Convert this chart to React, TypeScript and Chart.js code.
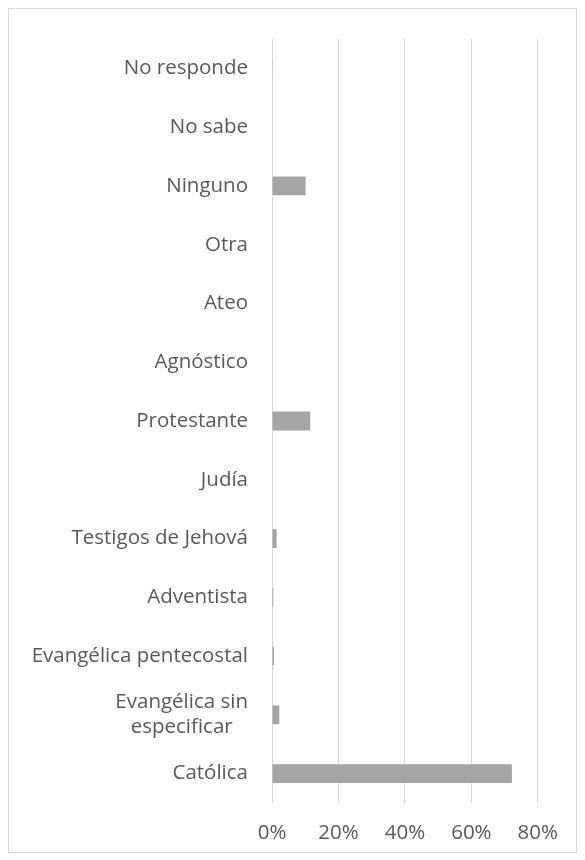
import React, { useEffect, useRef } from "react";
import { Chart, registerables } from "chart.js";

Chart.register(...registerables);

// Source order (bottom to top in the picture)
const categories: (string | string[])[] = [
  "Católica",
  ["Evangélica sin", "especificar"],
  "Evangélica pentecostal",
  "Adventista",
  "Testigos de Jehová",
  "Judía",
  "Protestante",
  "Agnóstico",
  "Ateo",
  "Otra",
  "Ninguno",
  "No sabe",
  "No responde",
];
const values = [72.2, 2.2, 0.6, 0.4, 1.4, 0, 11.5, 0, 0, 0, 10.1, 0, 0.2];
const xMin = 0;
const xMax = 80;
const xStep = 20;

const FONT = "'Open Sans', Lato, sans-serif";
const FONT_SIZE = 20.5;
const LINE_H = 25;
const TEXT_COLOR = "#595959";

const yLabelPlugin = {
  id: "yLabelsCentered",
  afterDraw(chart: any) {
    const { ctx, chartArea } = chart;
    const y = chart.scales.y;
    const right = chartArea.left - 24;
    ctx.save();
    ctx.font = `${FONT_SIZE}px ${FONT}`;
    ctx.fillStyle = TEXT_COLOR;
    ctx.textAlign = "center";
    ctx.textBaseline = "middle";
    (chart.data.labels as any[]).forEach((lab, i) => {
      const lines: string[] = Array.isArray(lab) ? lab : [lab];
      const maxW = Math.max(...lines.map((l) => ctx.measureText(l).width));
      const cx = right - maxW / 2;
      const yc = y.getPixelForValue(i);
      lines.forEach((l, j) => {
        ctx.fillText(l, cx, yc + (j - (lines.length - 1) / 2) * LINE_H);
      });
    });
    ctx.restore();
  },
};

export default function App() {
  const ref = useRef<HTMLCanvasElement | null>(null);
  useEffect(() => {
    if (!ref.current) return;
    const chart = new Chart(ref.current, {
      type: "bar",
      data: {
        labels: categories as any,
        datasets: [
          {
            data: values,
            backgroundColor: "#a5a5a5",
            borderWidth: 0,
            categoryPercentage: 1,
            barPercentage: 0.32,
          },
        ],
      },
      options: {
        indexAxis: "y",
        animation: false,
        responsive: true,
        maintainAspectRatio: false,
        layout: { padding: { top: 30, right: 34, bottom: 0, left: 0 } },
        plugins: { legend: { display: false }, tooltip: { enabled: false } },
        scales: {
          x: {
            min: xMin,
            max: xMax,
            border: { display: false },
            grid: { color: "#d9d9d9", drawTicks: false, lineWidth: 1 },
            ticks: {
              stepSize: xStep,
              padding: 18,
              color: TEXT_COLOR,
              font: { family: FONT, size: FONT_SIZE },
              callback: (v: any) => `${v}%`,
            },
            afterFit: (s: any) => {
              s.height = 49;
            },
          },
          y: {
            reverse: true,
            border: { display: false },
            grid: { display: false },
            ticks: { display: false },
            afterFit: (s: any) => {
              s.width = 263;
            },
          },
        },
      },
      plugins: [yLabelPlugin],
    });
    return () => chart.destroy();
  }, []);

  return (
    <div
      style={{
        width: "100%",
        height: 845,
        border: "1px solid #d9d9d9",
        boxSizing: "border-box",
        position: "relative",
        background: "#fff",
      }}
    >
      <canvas ref={ref} />
    </div>
  );
}
